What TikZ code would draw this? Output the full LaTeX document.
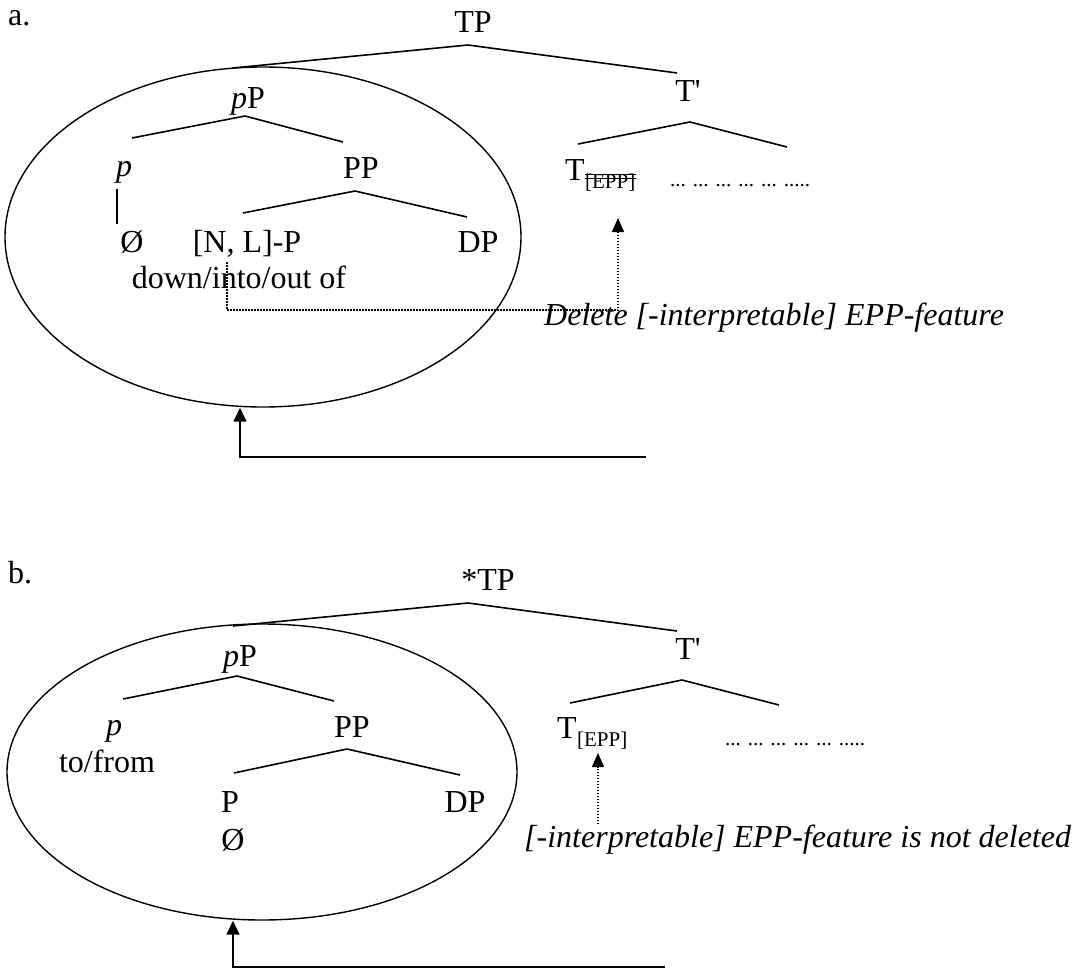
\documentclass[tikz,border=0pt]{standalone}
\usepackage{fontspec}
\setmainfont{Liberation Serif}
\usepackage{tikz}
\usetikzlibrary{arrows.meta, shapes.geometric}
\usepackage{xcolor}

\begin{document}
\begin{tikzpicture}[x=1pt, y=-1pt,
  lbl/.style={inner sep=0pt, anchor=base, font=\fontsize{32}{38}\selectfont},
  sub/.style={inner sep=0pt, anchor=base west, font=\fontsize{21}{24}\selectfont},
  note/.style={inner sep=0pt, anchor=base west, font=\fontsize{32}{38}\selectfont\itshape},
  branch/.style={line width=1.6pt},
  oval/.style={draw, ellipse, line width=1.4pt, inner sep=0pt},
  feat/.style={line width=1.5pt, dash pattern=on 1.5pt off 1.5pt, -{Triangle[length=14pt, width=12pt]}},
  move/.style={line width=1.6pt, -{Triangle[length=14pt, width=13pt]}}]
  \useasboundingbox (0,0) rectangle (1072,972);

  % a. deletion of the EPP-feature
  \node[lbl, anchor=base west] (labA) at (8,25) {a.};
  \node[oval, minimum width=516pt, minimum height=340pt] (ovalA) at (263,237) {};
  \node[lbl] (tpA) at (473,32) {TP};
  \node[lbl] (tbarA) at (688,101) {T\textquotesingle};
  \node[lbl] (ppA) at (248,108) {\textit{p}P};
  \node[lbl] (pA) at (124,176) {\textit{p}};
  \node[lbl] (pphA) at (361,178) {PP};
  \node[lbl] (nullA) at (132,252) {Ø};
  \node[lbl] (headA) at (247,252) {[N, L]-P};
  \node[lbl] (dpA) at (478,252) {DP};
  \node[lbl] (glossA) at (239,288) {down/into/out of};
  \node[lbl, anchor=base west] (tA) at (565,180) {T};
  \node[sub] (eppA) at ([yshift=-8pt]tA.base east) {[EPP]};
  \node[sub] (restA) at (670,186) {... ... ... ... ... .....};
  \node[note] (noteA) at (544,325) {Delete [-interpretable] EPP-feature};

  \coordinate (tpA-l) at (233,68); \coordinate (tpA-t) at (468,45); \coordinate (tpA-r) at (677,73);
  \coordinate (ppA-l) at (132,138); \coordinate (ppA-t) at (245,116); \coordinate (ppA-r) at (343,142);
  \coordinate (pphA-l) at (243,213); \coordinate (pphA-t) at (355,191); \coordinate (pphA-r) at (467,217);
  \coordinate (tbarA-l) at (578,144); \coordinate (tbarA-t) at (690,122); \coordinate (tbarA-r) at (787,147);
  \draw[branch] (tpA-l) -- (tpA-t) -- (tpA-r);
  \draw[branch] (ppA-l) -- (ppA-t) -- (ppA-r);
  \draw[branch] (pphA-l) -- (pphA-t) -- (pphA-r);
  \draw[branch] (tbarA-l) -- (tbarA-t) -- (tbarA-r);
  \draw[branch] ([yshift=-6pt]pA.south -| 117,0) -- ([yshift=6pt]nullA.north -| 117,0);

  % struck-out feature
  \draw[line width=1pt] ([yshift=8pt]eppA.west) -- ([yshift=8pt]eppA.east);
  \draw[line width=1pt] ([yshift=4pt]eppA.west) -- ([yshift=4pt]eppA.east);

  \coordinate (srcA) at (227,262);
  \coordinate (cornerA) at (618,310);
  \coordinate (tipA) at (618,218);
  \draw[feat] (srcA) |- (cornerA) -- (tipA);

  \coordinate (tailA) at (646,457);
  \coordinate (footA) at (240,457);
  \draw[move] (tailA) -- (footA) -- (footA |- ovalA.south);

  % b. EPP-feature survives
  \node[lbl, anchor=base west] (labB) at (8,583) {b.};
  \node[oval, minimum width=510pt, minimum height=296pt] (ovalB) at (262,772) {};
  \node[lbl] (tpB) at (488,590) {*TP};
  \node[lbl] (tbarB) at (688,659) {T\textquotesingle};
  \node[lbl] (ppB) at (240,666) {\textit{p}P};
  \node[lbl] (pB) at (114,735) {\textit{p}};
  \node[lbl] (glossB) at (107,772) {to/from};
  \node[lbl] (pphB) at (352,737) {PP};
  \node[lbl] (headB) at (230,812) {P};
  \node[lbl] (nullB) at (233,850) {Ø};
  \node[lbl] (dpB) at (465,812) {DP};
  \node[lbl, anchor=base west] (tB) at (557,738) {T};
  \node[sub] (eppB) at ([yshift=-8pt]tB.base east) {[EPP]};
  \node[sub] (restB) at (725,745) {... ... ... ... ... .....};
  \node[note] (noteB) at (524,847) {[-interpretable] EPP-feature is not deleted};

  \coordinate (tpB-l) at (233,626); \coordinate (tpB-t) at (468,603); \coordinate (tpB-r) at (677,631);
  \coordinate (ppB-l) at (123,699); \coordinate (ppB-t) at (237,676); \coordinate (ppB-r) at (334,701);
  \coordinate (pphB-l) at (234,773); \coordinate (pphB-t) at (347,749); \coordinate (pphB-r) at (460,775);
  \coordinate (tbarB-l) at (570,703); \coordinate (tbarB-t) at (682,680); \coordinate (tbarB-r) at (779,705);
  \draw[branch] (tpB-l) -- (tpB-t) -- (tpB-r);
  \draw[branch] (ppB-l) -- (ppB-t) -- (ppB-r);
  \draw[branch] (pphB-l) -- (pphB-t) -- (pphB-r);
  \draw[branch] (tbarB-l) -- (tbarB-t) -- (tbarB-r);

  \coordinate (tipB) at (598,753);
  \draw[feat] (noteB.north -| tipB) -- (tipB);

  \coordinate (tailB) at (665,967);
  \coordinate (footB) at (233,967);
  \draw[move] (tailB) -- (footB) -- (footB |- ovalB.south);
\end{tikzpicture}
\end{document}
